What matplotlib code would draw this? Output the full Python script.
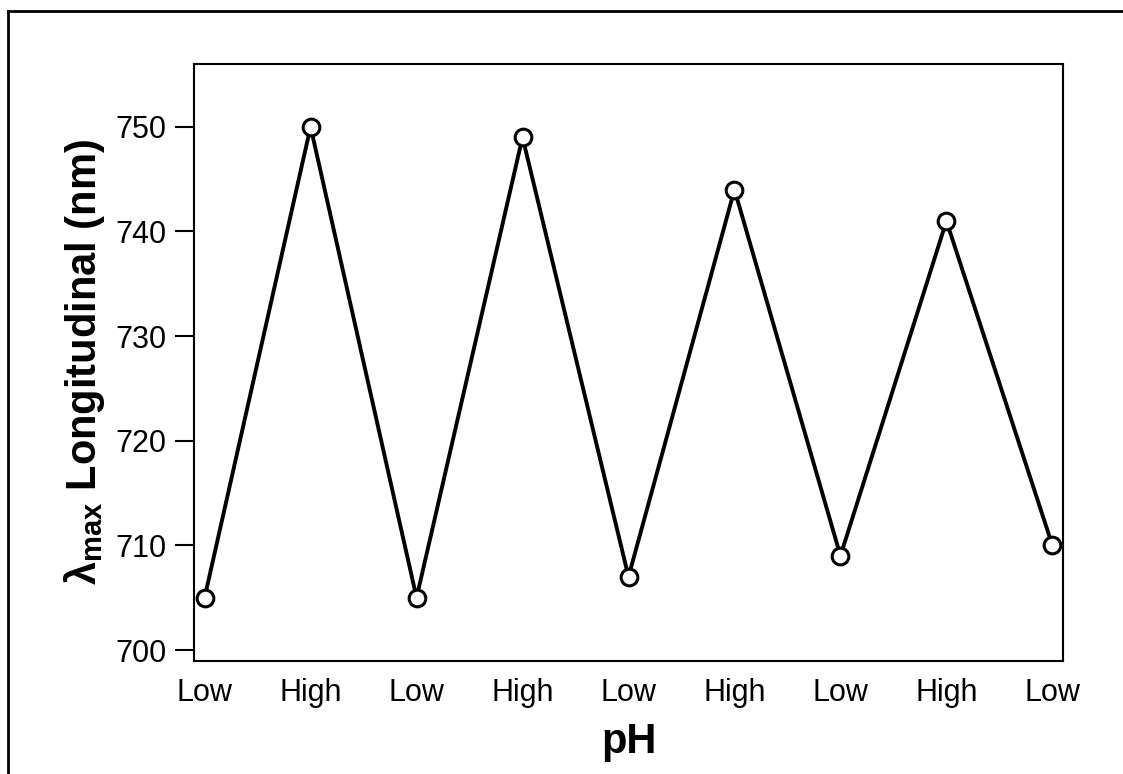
import matplotlib
matplotlib.use("Agg")
import matplotlib.pyplot as plt
from matplotlib.lines import Line2D

plt.rcParams["font.family"] = ["Liberation Sans", "DejaVu Sans"]
plt.rcParams["mathtext.fontset"] = "custom"
plt.rcParams["mathtext.rm"] = "Liberation Sans"
plt.rcParams["mathtext.bf"] = "Liberation Sans:bold"
plt.rcParams["mathtext.it"] = "Liberation Sans:italic"

ph_labels = ["Low", "High", "Low", "High", "Low", "High", "Low", "High", "Low"]
lambda_max = [705, 750, 705, 749, 707, 744, 709, 741, 710]
y_ticks = [700, 710, 720, 730, 740, 750]

fig = plt.figure(figsize=(11.23, 7.74), dpi=100)
ax = fig.add_axes([194 / 1123, 1 - 661 / 774, (1063 - 194) / 1123, (661 - 64) / 774])

x = list(range(len(lambda_max)))
ax.plot(x, lambda_max, color="black", linewidth=2.8, marker="o", markersize=12,
        markerfacecolor="white", markeredgecolor="black", markeredgewidth=2.2, zorder=3)

ax.set_xlim(-0.1, len(x) - 0.9)
ax.set_ylim(698.95, 756)
ax.set_yticks(y_ticks)
ax.set_xticks(x)
ax.set_xticklabels(ph_labels)
ax.tick_params(axis="x", length=0, pad=12, labelsize=22)
ax.tick_params(axis="y", length=14, width=1.5, pad=6, labelsize=22)
for s in ax.spines.values():
    s.set_linewidth(1.5)

ax.set_xlabel("pH", fontsize=30, fontweight="bold", labelpad=10)
ax.set_ylabel(r"$\mathbf{\lambda_{max}}$ Longitudinal (nm)", fontsize=30,
              fontweight="bold", labelpad=6)

# outer frame (only the top and left edges are visible)
fig.add_artist(Line2D([8 / 1123, 8 / 1123], [-0.1, 1 - 11 / 774], color="black",
                      linewidth=2, transform=fig.transFigure))
fig.add_artist(Line2D([8 / 1123, 1.1], [1 - 11 / 774, 1 - 11 / 774], color="black",
                      linewidth=2, transform=fig.transFigure))

fig.savefig("out.png", dpi=100)
